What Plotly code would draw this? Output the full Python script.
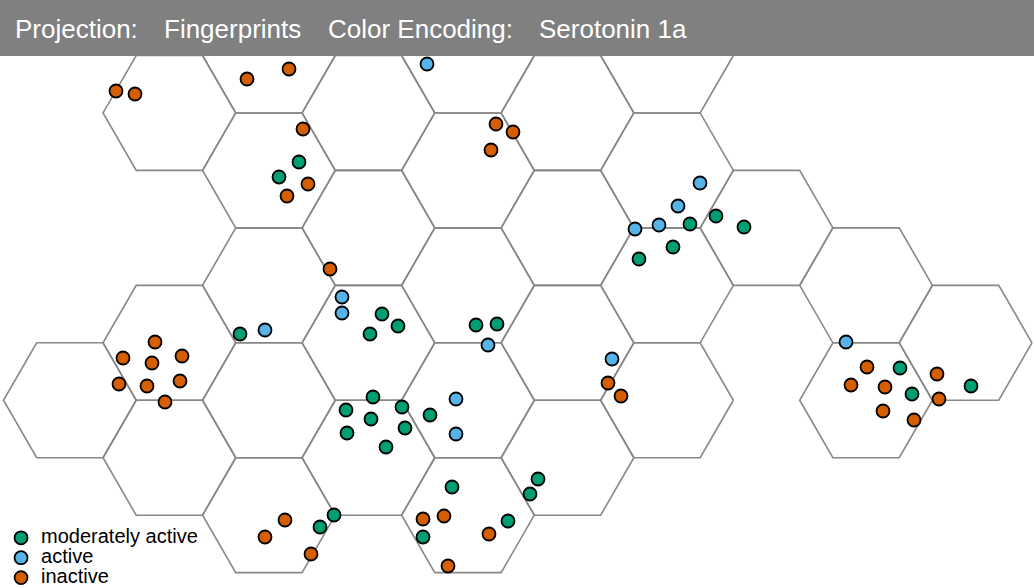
import plotly.graph_objects as go

# hex map cells that are drawn: (column, row) in an offset grid, odd columns shifted half a row down
hex_cols = [0, 1, 1, 1, 2, 2, 2, 2, 2, 3, 3, 3, 3, 4, 4, 4, 4, 4, 5, 5, 5, 5, 6, 6, 6, 6, 7, 8, 8, 9]
hex_rows = [3, 0, 2, 3, 0, 1, 2, 3, 4, 0, 1, 2, 3, 0, 1, 2, 3, 4, 0, 1, 2, 3, 0, 1, 2, 3, 1, 2, 3, 2]

# projected compounds (fingerprint projection coordinates)
mod_x = [299, 279, 690, 716, 744, 673, 639, 382, 398, 370, 240, 476, 497, 373, 346, 402,
         371, 430, 347, 405, 386, 452, 538, 530, 900, 912, 971, 334, 320, 423, 508]
mod_y = [162, 177, 224, 216, 227, 247, 259, 314, 326, 334, 334, 325, 324, 397, 410, 407,
         419, 415, 433, 428, 447, 487, 479, 494, 368, 394, 386, 515, 527, 537, 521]

act_x = [427, 700, 678, 659, 635, 342, 342, 265, 488, 456, 456, 612, 846]
act_y = [64, 183, 206, 225, 229, 297, 313, 330, 345, 399, 434, 359, 342]

inact_x = [116, 135, 247, 289, 303, 308, 287, 330, 496, 513, 491, 155, 123, 152, 182, 119,
           147, 180, 165, 608, 621, 867, 937, 851, 885, 939, 883, 914, 285, 265, 311, 423,
           444, 489, 448]
inact_y = [91, 94, 79, 69, 129, 184, 196, 269, 124, 132, 150, 342, 358, 363, 356, 384,
           386, 381, 402, 383, 396, 367, 374, 385, 387, 399, 411, 420, 520, 537, 554, 519,
           516, 534, 566]

header = ["Projection:", "Fingerprints", "Color Encoding:", "Serotonin 1a"]

W, H = 1034, 587
R = 66.35                 # hex radius
X0, Y0 = 69.85, 55.5      # centre of cell (0, 0)
SQ3 = 3 ** 0.5

hx, hy = [], []
for c, r in zip(hex_cols, hex_rows):
    cx = X0 + 1.5 * R * c
    cy = Y0 + SQ3 * R * r + (SQ3 * R / 2 if c % 2 else 0)
    for k in [0, 1, 2, 3, 4, 5, 0]:
        dx = [1, 0.5, -0.5, -1, -0.5, 0.5][k]
        dy = [0, 1, 1, 0, -1, -1][k]
        hx.append(cx + dx * R)
        hy.append(cy + dy * SQ3 * R / 2)
    hx.append(None)
    hy.append(None)

fig = go.Figure()
fig.add_trace(go.Scatter(x=hx, y=hy, mode="lines", line=dict(color="#888888", width=1.6),
                         hoverinfo="skip", showlegend=False))

groups = [
    ("moderately active", mod_x, mod_y, "#009E73"),
    ("active", act_x, act_y, "#56B4E9"),
    ("inactive", inact_x, inact_y, "#D55E00"),
]
for name, xs, ys, col in groups:
    fig.add_trace(go.Scatter(
        x=xs, y=ys, mode="markers",
        name='<span style="font-size:20px">%s</span>' % name,
        marker=dict(size=13, color=col, line=dict(color="black", width=1.8)),
    ))

fig.add_shape(type="rect", xref="paper", yref="paper", x0=0, x1=1, y0=1 - 56 / H, y1=1,
              fillcolor="#808080", line_width=0, layer="above")
for txt, px in zip(header, [13, 162, 326, 537]):
    fig.add_annotation(text=txt, xref="paper", yref="paper", x=px / W, y=1 - 29 / H,
                       xanchor="left", yanchor="middle", showarrow=False,
                       font=dict(family="Liberation Sans, Arial", size=26, color="white"))

fig.update_layout(
    width=W, height=H,
    margin=dict(l=0, r=0, t=0, b=0, autoexpand=False),
    paper_bgcolor="white", plot_bgcolor="white",
    xaxis=dict(range=[0, W], visible=False, fixedrange=True),
    yaxis=dict(range=[H, 0], visible=False, fixedrange=True),
    font=dict(family="Liberation Sans, Arial", color="black"),
    legend=dict(x=0.001, y=-0.01, xanchor="left", yanchor="bottom", bgcolor="rgba(0,0,0,0)",
                font=dict(size=13), itemclick=False),
    showlegend=True,
)

# page body has an 8px default margin; drop it so the figure fills the window
fig.write_html("out.html", config={"displayModeBar": False},
               post_script="document.body.style.margin='0px';")
